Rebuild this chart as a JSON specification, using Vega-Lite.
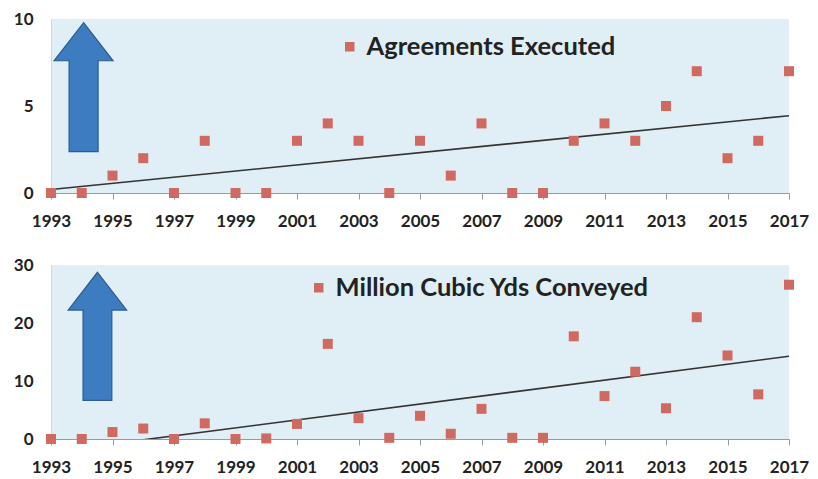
{
  "$schema": "https://vega.github.io/schema/vega-lite/v6.json",
  "background": "white",
  "padding": {"left": 7, "top": 10, "right": 0, "bottom": 0},
  "config": {
    "view": {"fill": "#dfeff5", "stroke": null},
    "axis": {"labelFont": "Lato", "labelFontWeight": "bold", "labelFontSize": 17, "labelColor": "#222222", "grid": false, "title": null}
  },
  "datasets": {
    "agreements": [
      {"year": 1993, "value": 0, "series": "Agreements Executed"},
      {"year": 1994, "value": 0, "series": "Agreements Executed"},
      {"year": 1995, "value": 1, "series": "Agreements Executed"},
      {"year": 1996, "value": 2, "series": "Agreements Executed"},
      {"year": 1997, "value": 0, "series": "Agreements Executed"},
      {"year": 1998, "value": 3, "series": "Agreements Executed"},
      {"year": 1999, "value": 0, "series": "Agreements Executed"},
      {"year": 2000, "value": 0, "series": "Agreements Executed"},
      {"year": 2001, "value": 3, "series": "Agreements Executed"},
      {"year": 2002, "value": 4, "series": "Agreements Executed"},
      {"year": 2003, "value": 3, "series": "Agreements Executed"},
      {"year": 2004, "value": 0, "series": "Agreements Executed"},
      {"year": 2005, "value": 3, "series": "Agreements Executed"},
      {"year": 2006, "value": 1, "series": "Agreements Executed"},
      {"year": 2007, "value": 4, "series": "Agreements Executed"},
      {"year": 2008, "value": 0, "series": "Agreements Executed"},
      {"year": 2009, "value": 0, "series": "Agreements Executed"},
      {"year": 2010, "value": 3, "series": "Agreements Executed"},
      {"year": 2011, "value": 4, "series": "Agreements Executed"},
      {"year": 2012, "value": 3, "series": "Agreements Executed"},
      {"year": 2013, "value": 5, "series": "Agreements Executed"},
      {"year": 2014, "value": 7, "series": "Agreements Executed"},
      {"year": 2015, "value": 2, "series": "Agreements Executed"},
      {"year": 2016, "value": 3, "series": "Agreements Executed"},
      {"year": 2017, "value": 7, "series": "Agreements Executed"}
    ],
    "cubic": [
      {"year": 1993, "value": 0, "series": "Million Cubic Yds Conveyed"},
      {"year": 1994, "value": 0, "series": "Million Cubic Yds Conveyed"},
      {"year": 1995, "value": 1.2, "series": "Million Cubic Yds Conveyed"},
      {"year": 1996, "value": 1.8, "series": "Million Cubic Yds Conveyed"},
      {"year": 1997, "value": 0, "series": "Million Cubic Yds Conveyed"},
      {"year": 1998, "value": 2.7, "series": "Million Cubic Yds Conveyed"},
      {"year": 1999, "value": 0, "series": "Million Cubic Yds Conveyed"},
      {"year": 2000, "value": 0.1, "series": "Million Cubic Yds Conveyed"},
      {"year": 2001, "value": 2.6, "series": "Million Cubic Yds Conveyed"},
      {"year": 2002, "value": 16.4, "series": "Million Cubic Yds Conveyed"},
      {"year": 2003, "value": 3.6, "series": "Million Cubic Yds Conveyed"},
      {"year": 2004, "value": 0.2, "series": "Million Cubic Yds Conveyed"},
      {"year": 2005, "value": 4.0, "series": "Million Cubic Yds Conveyed"},
      {"year": 2006, "value": 0.9, "series": "Million Cubic Yds Conveyed"},
      {"year": 2007, "value": 5.2, "series": "Million Cubic Yds Conveyed"},
      {"year": 2008, "value": 0.2, "series": "Million Cubic Yds Conveyed"},
      {"year": 2009, "value": 0.2, "series": "Million Cubic Yds Conveyed"},
      {"year": 2010, "value": 17.7, "series": "Million Cubic Yds Conveyed"},
      {"year": 2011, "value": 7.4, "series": "Million Cubic Yds Conveyed"},
      {"year": 2012, "value": 11.6, "series": "Million Cubic Yds Conveyed"},
      {"year": 2013, "value": 5.3, "series": "Million Cubic Yds Conveyed"},
      {"year": 2014, "value": 21.0, "series": "Million Cubic Yds Conveyed"},
      {"year": 2015, "value": 14.4, "series": "Million Cubic Yds Conveyed"},
      {"year": 2016, "value": 7.7, "series": "Million Cubic Yds Conveyed"},
      {"year": 2017, "value": 26.6, "series": "Million Cubic Yds Conveyed"}
    ]
  },
  "resolve": {"scale": {"color": "independent", "x": "independent", "y": "independent"}, "legend": {"color": "independent"}},
  "spacing": 27,
  "vconcat": [
    {
      "width": 738,
      "height": 174,
      "layer": [
        {
          "data": {"values": [{}]},
          "mark": {"type": "point", "shape": "M0,-1L0.457,-0.41L0.225,-0.41L0.225,1L-0.225,1L-0.225,-0.41L-0.457,-0.41Z", "filled": true, "fill": "#3d7cc0", "stroke": "#2b5d91", "strokeWidth": 1.2, "size": 16641, "opacity": 1},
          "encoding": {
            "x": {"datum": 1994.06, "type": "quantitative"},
            "y": {"datum": 6.08, "type": "quantitative"}
          }
        },
        {
          "data": {"name": "agreements"},
          "transform": [{"regression": "value", "on": "year"}],
          "mark": {"type": "line", "color": "#333333", "strokeWidth": 1.6, "clip": true},
          "encoding": {
            "x": {"field": "year", "type": "quantitative"},
            "y": {"field": "value", "type": "quantitative"}
          }
        },
        {
          "data": {"name": "agreements"},
          "mark": {"type": "point", "shape": "square", "filled": true, "size": 100, "opacity": 1},
          "encoding": {
            "x": {"field": "year", "type": "quantitative", "scale": {"domain": [1993, 2017], "nice": false, "zero": false},
              "axis": {"values": [1993,1995,1997,1999,2001,2003,2005,2007,2009,2011,2013,2015,2017], "format": "d", "domainColor": "#9a9a9a", "tickColor": "#9a9a9a", "tickSize": 6, "labelPadding": 14, "labelFlush": false}},
            "y": {"field": "value", "type": "quantitative", "scale": {"domain": [0, 10], "nice": false},
              "axis": {"values": [0, 5, 10], "ticks": false, "labelPadding": 18, "domainColor": "#d4d4d4", "minExtent": 44, "maxExtent": 44}},
            "color": {"field": "series", "type": "nominal", "scale": {"range": ["#d06a60"]},
              "legend": {"orient": "none", "legendX": 286, "legendY": 15, "title": null, "symbolType": "square", "symbolSize": 90, "symbolStrokeWidth": 0, "symbolOpacity": 1, "labelFont": "Lato", "labelFontWeight": "bold", "labelFontSize": 25.5, "labelColor": "#222222", "labelOffset": 4, "labelLimit": 500}}
          }
        }
      ]
    },
    {
      "width": 738,
      "height": 174,
      "layer": [
        {
          "data": {"values": [{}]},
          "mark": {"type": "point", "shape": "M0,-1L0.457,-0.41L0.225,-0.41L0.225,1L-0.225,1L-0.225,-0.41L-0.457,-0.41Z", "filled": true, "fill": "#3d7cc0", "stroke": "#2b5d91", "strokeWidth": 1.2, "size": 16384, "opacity": 1},
          "encoding": {
            "x": {"datum": 1994.51, "type": "quantitative"},
            "y": {"datum": 17.7, "type": "quantitative"}
          }
        },
        {
          "data": {"name": "cubic"},
          "transform": [{"regression": "value", "on": "year"}],
          "mark": {"type": "line", "color": "#333333", "strokeWidth": 1.6, "clip": true},
          "encoding": {
            "x": {"field": "year", "type": "quantitative"},
            "y": {"field": "value", "type": "quantitative"}
          }
        },
        {
          "data": {"name": "cubic"},
          "mark": {"type": "point", "shape": "square", "filled": true, "size": 100, "opacity": 1},
          "encoding": {
            "x": {"field": "year", "type": "quantitative", "scale": {"domain": [1993, 2017], "nice": false, "zero": false},
              "axis": {"values": [1993,1995,1997,1999,2001,2003,2005,2007,2009,2011,2013,2015,2017], "format": "d", "domainColor": "#9a9a9a", "tickColor": "#9a9a9a", "tickSize": 6, "labelPadding": 14, "labelFlush": false}},
            "y": {"field": "value", "type": "quantitative", "scale": {"domain": [0, 30], "nice": false},
              "axis": {"values": [0, 10, 20, 30], "ticks": false, "labelPadding": 18, "domainColor": "#d4d4d4", "minExtent": 44, "maxExtent": 44}},
            "color": {"field": "series", "type": "nominal", "scale": {"range": ["#d06a60"]},
              "legend": {"orient": "none", "legendX": 255, "legendY": 10, "title": null, "symbolType": "square", "symbolSize": 90, "symbolStrokeWidth": 0, "symbolOpacity": 1, "labelFont": "Lato", "labelFontWeight": "bold", "labelFontSize": 25.5, "labelColor": "#222222", "labelOffset": 4, "labelLimit": 500}}
          }
        }
      ]
    }
  ]
}
